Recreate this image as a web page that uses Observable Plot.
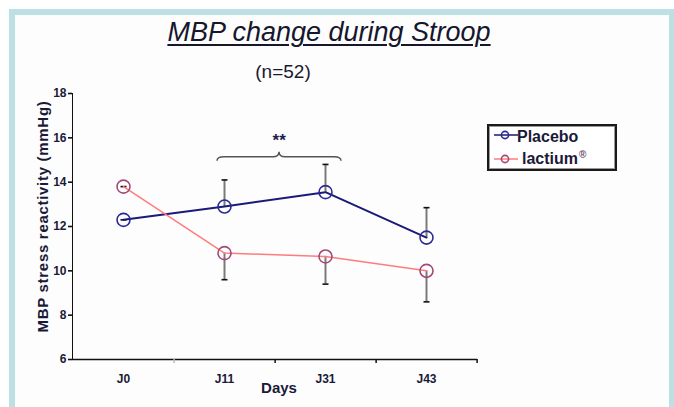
<!DOCTYPE html>
<html><head><meta charset="utf-8">
<script src="https://cdn.jsdelivr.net/npm/d3@7"></script>
<script src="https://cdn.jsdelivr.net/npm/@observablehq/plot@0.6"></script>
<style>
html,body{margin:0;padding:0;background:#fff;overflow:hidden;width:674px;height:407px;font-family:"Liberation Sans",Arial,sans-serif;}
#frame{position:absolute;left:9px;top:9px;width:666px;height:430px;box-sizing:border-box;border:6px solid #bde0e4;background:#fdfdfd;}
#title{position:absolute;left:0;width:658px;top:19px;text-align:center;font-size:27px;line-height:27px;font-style:italic;color:#16162c;text-decoration:underline;text-decoration-thickness:2px;text-underline-offset:3px;}
#sub{position:absolute;left:0;width:566px;top:62px;text-align:center;font-size:19px;line-height:20px;color:#1a1a30;}
#chart{position:absolute;left:0;top:80px;}
#legend{position:absolute;left:487px;top:124px;width:130px;height:47px;box-sizing:border-box;border:2px solid #1a1a1a;box-shadow:inset 0 0 0 1px #999;background:#fff;}
#legend .sw{position:absolute;}
#legend .lt{position:absolute;font-size:16px;line-height:16px;font-weight:bold;color:#1a1a38;white-space:nowrap;}
#legend sup{font-size:10px;color:#6a4a70;vertical-align:6px;margin-left:1px;}
</style>
</head><body>
<div id="frame"></div>
<div id="title">MBP change during Stroop</div>
<div id="sub">(n=52)</div>
<div id="chart"></div>
<div id="legend"></div>
<script>
// ---- data ----
const days = ["J0", "J11", "J31", "J43"];
const seriesNames = ["Placebo", "lactium"];
const placeboMean = [12.3, 12.9, 13.55, 11.5];
const placeboSE = [0, 1.2, 1.25, 1.35];
const lactiumMean = [13.8, 10.8, 10.65, 10.0];
const lactiumSE = [0, 1.2, 1.25, 1.4];
const yTicks = [6, 8, 10, 12, 14, 16, 18];
const yDomain = [6, 18];
const yLabel = "MBP stress reactivity (mmHg)";
const xLabel = "Days";
const signif = [{from: "J11", to: "J31", y: 15.15, labelY: 15.9, label: "**"}];

// ---- styles ----
const W = 674, H = 327, mL = 72, mR = 197, mT = 13, mB = 48;
const step = (W - mL - mR) / days.length;
const series = [
  {name: seriesNames[0], mean: placeboMean, se: placeboSE, dir: 1, line: "#1a1a78", lineWidth: 2, marker: "#2a2a96"},
  {name: seriesNames[1], mean: lactiumMean, se: lactiumSE, dir: -1, line: "#ff7c7c", lineWidth: 1.5, marker: "#a4487a"}
];
const rows = s => days.map((d, i) => ({series: s.name, day: d, mean: s.mean[i], end: s.mean[i] + s.dir * s.se[i]}));

const capSymbol = {draw(ctx, size) { const w = Math.sqrt(size / Math.PI); ctx.moveTo(-w, 0); ctx.lineTo(w, 0); }};

function braceCurve(context) {
  let pts = [];
  return {
    areaStart() {}, areaEnd() {},
    lineStart() { pts = []; },
    point(x, y) { pts.push([+x, +y]); },
    lineEnd() {
      const [[xa, y], [xb]] = pts;
      const ext = 11.5, x1 = xa - ext, x2 = xb + ext, xm = (x1 + x2) / 2;
      context.moveTo(x1, y + 4);
      context.quadraticCurveTo(x1, y, x1 + 7, y);
      context.lineTo(xm - 6, y);
      context.quadraticCurveTo(xm, y, xm, y - 5);
      context.quadraticCurveTo(xm, y, xm + 6, y);
      context.lineTo(x2 - 7, y);
      context.quadraticCurveTo(x2, y, x2, y + 4);
    }
  };
}

const marks = [
  Plot.ruleY([yDomain[0]], {stroke: "#111", strokeWidth: 1.6}),
  Plot.ruleX(days, {x: d => d, dx: step / 2, insetTop: H - mT - mB, insetBottom: -4,
    stroke: (d, i) => i === 0 ? "#bbb" : "#111", strokeWidth: 1.5})
];
for (const s of series) {
  const data = rows(s);
  marks.push(
    Plot.ruleX(data, {x: "day", y1: "mean", y2: "end", stroke: "#7a7a7a", strokeWidth: 2}),
    Plot.dot(data, {x: "day", y: "end", symbol: capSymbol, r: 3, stroke: "#111", strokeWidth: 1.6, fill: "none"})
  );
}
for (const s of series) {
  const data = rows(s);
  marks.push(
    Plot.line(data, {x: "day", y: "mean", stroke: s.line, strokeWidth: s.lineWidth}),
    Plot.dot(data, {x: "day", y: "mean", r: 6.5, stroke: s.marker, strokeWidth: 1.6, fill: "none"})
  );
}
marks.push(
  Plot.link(signif, {x1: "from", x2: "to", y1: "y", y2: "y", curve: braceCurve, stroke: "#555", strokeWidth: 1.5, dx: 4}),
  Plot.text(signif, {x: "from", y: "labelY", text: "label", dx: step / 2 + 4, fontSize: 17, fontWeight: "bold", fill: "#1e1e50"}),
  Plot.text([yLabel], {frameAnchor: "left", textAnchor: "middle", rotate: -90, text: d => d, dx: -29, dy: -10, fontSize: 15, fontWeight: "bold", fill: "#1a1a38"}),
  Plot.text([xLabel], {frameAnchor: "bottom", text: d => d, dx: 4, dy: 33, fontSize: 15, fontWeight: "bold", fill: "#1a1a38"})
);

const chart = Plot.plot({
  width: W, height: H, marginLeft: mL, marginRight: mR, marginTop: mT, marginBottom: mB,
  style: {fontFamily: "'Liberation Sans', Arial, sans-serif", fontSize: "12px", fontWeight: "bold", color: "#111", background: "transparent", overflow: "visible"},
  x: {type: "point", domain: days, padding: 0.5, tickSize: 0, tickPadding: 15, label: null},
  y: {domain: yDomain, ticks: yTicks, tickSize: 4, tickPadding: 2, line: true, label: null},
  marks
});
d3.select(chart).selectAll("text").filter(function() { return this.textContent === yLabel; }).attr("letter-spacing", "0.7px");
d3.select(chart).selectAll("[aria-label^='x-axis'] text, [aria-label^='y-axis'] text").attr("fill", "#1a1a38");
d3.select(chart).selectAll("[aria-label^='y-axis'] path, [aria-label^='y-axis'] line").attr("stroke-width", 1.6);
document.getElementById("chart").appendChild(chart);

// ---- legend ----
const leg = document.getElementById("legend");
const legRows = [{lineY: 9, textLeft: 28, textTop: 3}, {lineY: 33, textLeft: 33, textTop: 21}];
series.forEach((s, i) => {
  const r = legRows[i];
  const sw = document.createElementNS("http://www.w3.org/2000/svg", "svg");
  sw.setAttribute("class", "sw"); sw.setAttribute("width", 26); sw.setAttribute("height", 10);
  sw.style.left = "4px"; sw.style.top = (r.lineY - 5) + "px";
  sw.innerHTML = `<line x1="1" x2="25" y1="5" y2="5" stroke="${s.line}" stroke-width="1.5"/><circle cx="12" cy="5" r="3.6" fill="none" stroke="${s.marker}" stroke-width="1.6"/>`;
  leg.appendChild(sw);
  const t = document.createElement("div");
  t.className = "lt"; t.style.left = r.textLeft + "px"; t.style.top = r.textTop + "px";
  t.textContent = s.name;
  if (i === 1) { const sup = document.createElement("sup"); sup.textContent = "®"; t.appendChild(sup); }
  leg.appendChild(t);
});
</script>
</body></html>
